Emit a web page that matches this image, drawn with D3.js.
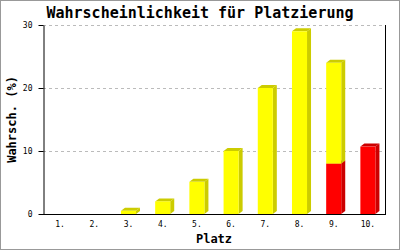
<!DOCTYPE html>
<html>
<head>
<meta charset="utf-8">
<script src="https://cdn.jsdelivr.net/npm/d3@7"></script>
<style>
  body { margin: 0; background: #fff; }
  svg { display: block; font-family: "DejaVu Sans Mono", monospace; }
</style>
</head>
<body>
<svg id="chart"></svg>
<script>
const places = ["1.", "2.", "3.", "4.", "5.", "6.", "7.", "8.", "9.", "10."];
const redVals = [0, 0, 0, 0, 0, 0, 0, 0, 8, 10.7];
const yellowVals = [0, 0, 0.5, 2, 5.1, 10, 20, 29, 16, 0];
const yTicks = [0, 10, 20, 30];

const width = 400;
const height = 250;
const marginTop = 25;
const marginRight = 15;
const marginBottom = 36;
const marginLeft = 43;
const depthX = 4;
const depthY = 3;

const svg = d3.select("#chart")
    .attr("width", width)
    .attr("height", height);

// outer frame
svg.append("rect")
    .attr("x", 0.5).attr("y", 0.5)
    .attr("width", width - 1).attr("height", height - 1)
    .attr("fill", "#fff")
    .attr("stroke", "#999");

const x = d3.scaleBand()
    .domain(places)
    .range([marginLeft, width - marginRight])
    .paddingInner(0.56)
    .paddingOuter(0.28);

const y = d3.scaleLinear()
    .domain([0, 30])
    .range([height - marginBottom, marginTop]);

// grid
svg.append("g")
    .selectAll("line")
    .data(yTicks.filter(d => d > 0))
    .join("line")
    .attr("x1", marginLeft)
    .attr("x2", width - marginRight)
    .attr("y1", d => Math.round(y(d)) + 0.5)
    .attr("y2", d => Math.round(y(d)) + 0.5)
    .attr("stroke", "#bbb")
    .attr("stroke-dasharray", "3,3");

const rows = places.map((p, i) => ({ place: p, red: redVals[i], yellow: yellowVals[i] }));
const series = d3.stack().keys(["red", "yellow"])(rows);
const colors = {
    red: { front: "#ff0000", side: "#cc0000" },
    yellow: { front: "#ffff00", side: "#cccc00" }
};

const bars = svg.append("g");
series.forEach(s => {
    const c = colors[s.key];
    s.forEach(d => {
        if (d[1] - d[0] <= 0) return;
        const x0 = x(d.data.place);
        const x1 = x0 + x.bandwidth();
        const yt = y(d[1]);
        const yb = y(d[0]);
        bars.append("polygon")
            .attr("points", [[x1, yt], [x1 + depthX, yt - depthY], [x1 + depthX, yb - depthY], [x1, yb]].join(" "))
            .attr("fill", c.side);
        bars.append("polygon")
            .attr("points", [[x0, yt], [x0 + depthX, yt - depthY], [x1 + depthX, yt - depthY], [x1, yt]].join(" "))
            .attr("fill", c.side);
        bars.append("rect")
            .attr("x", x0)
            .attr("y", yt)
            .attr("width", x.bandwidth())
            .attr("height", yb - yt)
            .attr("fill", c.front);
    });
});

// y axis
svg.append("g")
    .attr("transform", `translate(${marginLeft + 0.5},0)`)
    .call(d3.axisLeft(y).tickValues(yTicks).tickSize(5).tickSizeOuter(0).tickPadding(6))
    .call(g => g.selectAll("line, path").attr("stroke", "#000"))
    .call(g => g.selectAll("text").attr("font-size", 8).attr("font-family", "DejaVu Sans Mono").attr("fill", "#000"));

// right edge
svg.append("line")
    .attr("x1", width - marginRight + 0.5)
    .attr("x2", width - marginRight + 0.5)
    .attr("y1", marginTop)
    .attr("y2", height - marginBottom)
    .attr("stroke", "#000");

// x axis
svg.append("g")
    .attr("transform", `translate(0,${height - marginBottom + 0.5})`)
    .call(d3.axisBottom(x).tickSize(0).tickSizeOuter(0).tickPadding(7))
    .call(g => g.select(".domain").attr("stroke", "#000").attr("d", `M${marginLeft},0H${width - marginRight + 1}`))
    .call(g => g.selectAll("text").attr("font-size", 8).attr("font-family", "DejaVu Sans Mono").attr("fill", "#000"));

// titles
svg.append("text")
    .attr("x", 200)
    .attr("y", 18)
    .attr("text-anchor", "middle")
    .attr("font-size", 15)
    .attr("font-weight", "bold")
    .text("Wahrscheinlichkeit für Platzierung");

svg.append("text")
    .attr("x", (marginLeft + width - marginRight) / 2)
    .attr("y", 243)
    .attr("text-anchor", "middle")
    .attr("font-size", 12)
    .attr("font-weight", "bold")
    .text("Platz");

svg.append("text")
    .attr("transform", `translate(16,${y(15)}) rotate(-90)`)
    .attr("text-anchor", "middle")
    .attr("font-size", 12)
    .attr("font-weight", "bold")
    .text("Wahrsch. (%)");
</script>
</body>
</html>
